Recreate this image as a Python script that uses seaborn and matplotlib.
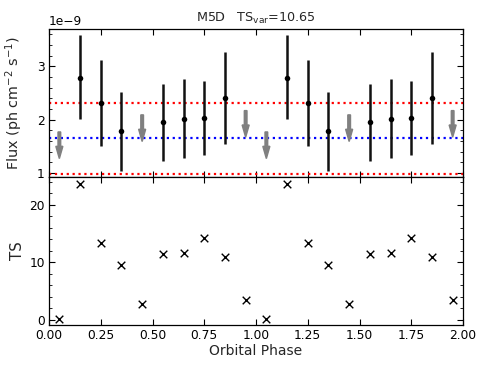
import numpy as np
import pandas as pd
import matplotlib
matplotlib.use("Agg")
import matplotlib.pyplot as plt
import seaborn as sns
from matplotlib.ticker import MultipleLocator

sns.set_theme(style="ticks")
plt.rcParams['font.family'] = ['DejaVu Sans']
plt.rcParams['mathtext.default'] = 'regular'

# ---- data ----
det_phase = [0.15, 0.25, 0.35, 0.55, 0.65, 0.75, 0.85,
             1.15, 1.25, 1.35, 1.55, 1.65, 1.75, 1.85]
det_flux = [2.79, 2.31, 1.79, 1.955, 2.02, 2.035, 2.41,
            2.79, 2.31, 1.79, 1.955, 2.02, 2.035, 2.41]  # x1e-9
det_err_hi = [0.79, 0.80, 0.73, 0.715, 0.74, 0.685, 0.85,
              0.79, 0.80, 0.73, 0.715, 0.74, 0.685, 0.85]
det_err_lo = [0.78, 0.795, 0.75, 0.735, 0.73, 0.695, 0.86,
              0.78, 0.795, 0.75, 0.735, 0.73, 0.695, 0.86]
ul_phase = [0.05, 0.45, 0.95, 1.05, 1.45, 1.95]
ul_flux = [1.77, 2.09, 2.17, 1.77, 2.09, 2.17]  # x1e-9
mean_flux = 1.655
band_hi = 2.32
band_lo = 0.99
ts_phase = [0.05, 0.15, 0.25, 0.35, 0.45, 0.55, 0.65, 0.75, 0.85, 0.95,
            1.05, 1.15, 1.25, 1.35, 1.45, 1.55, 1.65, 1.75, 1.85, 1.95]
ts_values = [0.2, 23.6, 13.3, 9.5, 2.8, 11.4, 11.65, 14.2, 10.9, 3.5,
             0.2, 23.6, 13.3, 9.5, 2.8, 11.4, 11.65, 14.2, 10.9, 3.5]
title_text = "M5D   TS$_{var}$=10.65"

scale = 1e-9
W, H = 488, 366
fig = plt.figure(figsize=(W / 100, H / 100), dpi=100)
ax1 = fig.add_axes([49 / W, (H - 177) / H, 414 / W, 148 / H])
ax2 = fig.add_axes([49 / W, (H - 325) / H, 414 / W, 148 / H], sharex=ax1)

# ---- top panel ----
det_df = pd.DataFrame({"phase": det_phase,
                       "flux": np.array(det_flux) * scale})
ax1.errorbar(det_phase, np.array(det_flux) * scale,
             yerr=[np.array(det_err_lo) * scale, np.array(det_err_hi) * scale],
             fmt='none', ecolor='#111111', elinewidth=1.8, capsize=0, zorder=3)
sns.scatterplot(data=det_df, x="phase", y="flux", ax=ax1, color='black',
                s=16, edgecolor='black', linewidth=0, zorder=4, legend=False)
for px, fy in zip(ul_phase, ul_flux):
    ax1.arrow(px, fy * scale, 0, -0.5 * scale, width=0.013,
              head_width=0.034, head_length=0.23 * scale,
              length_includes_head=True, color='#808080', zorder=3)
ax1.axhline(mean_flux * scale, color='blue', ls=':', lw=1.6, zorder=2)
ax1.axhline(band_hi * scale, color='red', ls=':', lw=1.6, zorder=2)
ax1.axhline(band_lo * scale, color='red', ls=':', lw=1.6, zorder=2)
ax1.set_ylim(0.925 * scale, 3.70 * scale)
ax1.yaxis.set_major_locator(MultipleLocator(1 * scale))
ax1.yaxis.set_minor_locator(MultipleLocator(0.2 * scale))
ax1.set_ylabel("Flux (ph cm$^{-2}$ s$^{-1}$)", fontsize=10.4)
ax1.set_xlabel("")
ax1.set_title(title_text, fontsize=9.2, pad=5)
ax1.tick_params(labelbottom=False)

# ---- bottom panel ----
ts_df = pd.DataFrame({"phase": ts_phase, "ts": ts_values})
sns.scatterplot(data=ts_df, x="phase", y="ts", ax=ax2, marker='x',
                color='black', s=30, linewidth=1.0, legend=False)
ax2.set_ylim(-0.92, 24.8)
ax2.set_xlim(0, 2)
ax2.xaxis.set_major_locator(MultipleLocator(0.25))
ax2.yaxis.set_major_locator(MultipleLocator(10))
ax2.yaxis.set_minor_locator(MultipleLocator(2))
ax2.set_ylabel("TS", fontsize=10.8)
ax2.set_xlabel("Orbital Phase", fontsize=10, labelpad=1)
ax2.xaxis.set_major_formatter(matplotlib.ticker.FormatStrFormatter('%.2f'))

for ax in (ax1, ax2):
    ax.tick_params(which='both', direction='in', top=True, right=True,
                   labelsize=8.8, colors='black', pad=3)
    ax.tick_params(which='major', length=4, width=0.8)
    ax.tick_params(which='minor', length=2, width=0.6)
    for sp in ax.spines.values():
        sp.set_color('black')
        sp.set_linewidth(0.9)
ax1.yaxis.get_offset_text().set_fontsize(8.8)
ax1.yaxis.set_label_coords(-0.057, 0.5)
ax2.yaxis.set_label_coords(-0.057, 0.5)

fig.savefig("out.png", dpi=100)
